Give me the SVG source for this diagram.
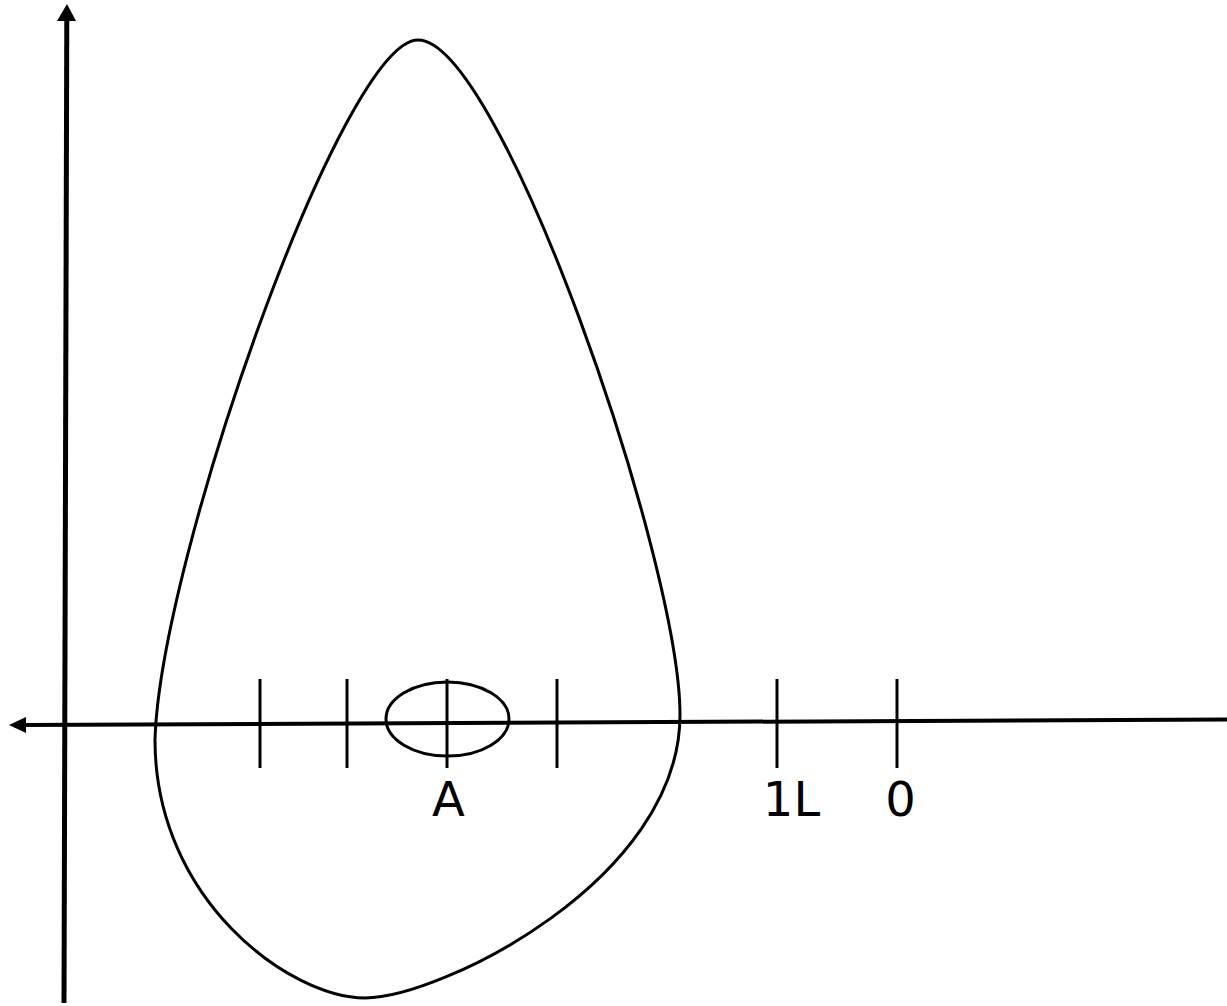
<svg xmlns="http://www.w3.org/2000/svg" width="1227" height="1006" viewBox="0 0 1227 1006">
<style>
.ax{stroke:#000;fill:none}
.tk{stroke:#000;stroke-width:3;fill:none}
.lbl{font-family:"DejaVu Sans",sans-serif;font-size:48px;fill:#000;text-anchor:middle}
</style>
<rect width="1227" height="1006" fill="#fff"/>
<g id="connectors">
<line class="ax" x1="64" y1="1003" x2="66.8" y2="18" stroke-width="5"/>
<polygon points="67,4 57,21 76,21" fill="#000"/>
<line class="ax" x1="1227" y1="719.5" x2="24" y2="725" stroke-width="4"/>
<polygon points="9,725 26,717 26,733" fill="#000"/>
</g>
<g id="drop">
<path class="tk" d="M418 40 C343 40 160 560 155 740 C155 900 290 998 365 998 C440 998 680 880 680 715 C680 560 500 40 418 40 Z"/>
</g>
<g id="ticks">
<line class="tk" x1="260" y1="679" x2="260" y2="768"/>
<line class="tk" x1="347" y1="679" x2="347" y2="768"/>
<line class="tk" x1="447" y1="679" x2="447" y2="768"/>
<line class="tk" x1="557" y1="679" x2="557" y2="768"/>
<line class="tk" x1="777" y1="679" x2="777" y2="768"/>
<line class="tk" x1="897" y1="679" x2="897" y2="768"/>
</g>
<g id="pointA">
<ellipse class="tk" cx="447.5" cy="719" rx="61.5" ry="37"/>
</g>
<g id="labels">
<text class="lbl" x="448.5" y="816">A</text>
<text class="lbl" x="791.5" y="816">1L</text>
<text class="lbl" x="900.5" y="816">0</text>
</g>
</svg>
